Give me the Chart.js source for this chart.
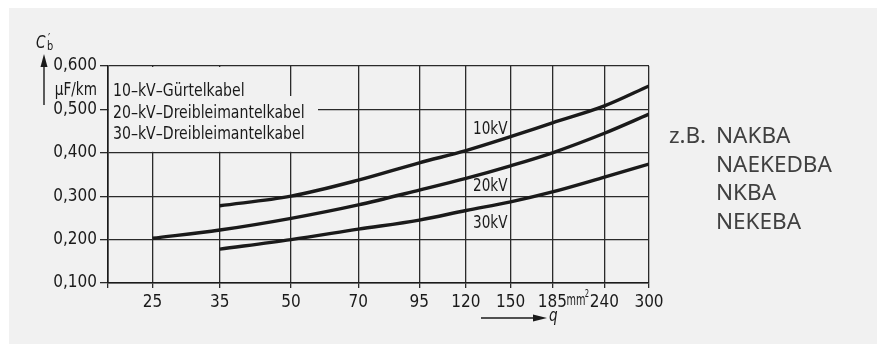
<!DOCTYPE html>
<html>
<head>
<meta charset="utf-8">
<script src="https://cdn.jsdelivr.net/npm/chart.js@4.4.0/dist/chart.umd.min.js"></script>
<style>
  html, body { margin: 0; padding: 0; background: #fff; }
  #wrap { width: 877px; height: 344px; }
</style>
</head>
<body>
<div id="wrap"><canvas id="chart" width="877" height="344"></canvas></div>
<script>
// cross-section q in mm2 (tick positions on the log axis)
const qTicks = [20, 25, 35, 50, 70, 95, 120, 150, 185, 240, 300];

// operating capacitance C'b in uF/km
const q10 = [35, 50, 70, 95, 120, 150, 185, 240, 300];
const c10 = [0.278, 0.300, 0.337, 0.377, 0.405, 0.437, 0.469, 0.508, 0.554];

const q20 = [25, 35, 50, 70, 95, 120, 150, 185, 240, 300];
const c20 = [0.203, 0.222, 0.249, 0.280, 0.314, 0.341, 0.370, 0.400, 0.445, 0.489];

const q30 = [35, 50, 70, 95, 120, 150, 185, 240, 300];
const c30 = [0.178, 0.200, 0.224, 0.245, 0.267, 0.287, 0.310, 0.344, 0.374];

const legendLines = ['10\u2013kV\u2013G\u00fcrtelkabel', '20\u2013kV\u2013Dreibleimantelkabel', '30\u2013kV\u2013Dreibleimantelkabel'];
const curveLabels = ['10kV', '20kV', '30kV'];
const exampleCables = ['NAKBA', 'NAEKEDBA', 'NKBA', 'NEKEBA'];

const narrow = '"DejaVu Sans Condensed", "Liberation Sans Narrow", Arial, sans-serif';
const ink = '#1a1a1a';

function toPoints(xs, ys) {
  return xs.map((x, i) => ({ x: x, y: ys[i] }));
}

function curve(xs, ys) {
  return {
    data: toPoints(xs, ys),
    borderColor: ink,
    borderWidth: 3.4,
    pointRadius: 0,
    fill: false,
    cubicInterpolationMode: 'monotone'
  };
}

// squeezed text, the scan uses a narrow typeface
function narrowText(ctx, t, x, y, align, sx) {
  ctx.save();
  ctx.translate(x, y);
  ctx.scale(sx || 0.84, 1);
  ctx.textAlign = align || 'left';
  ctx.fillText(t, 0, 0);
  const w = ctx.measureText(t).width * (sx || 0.84);
  ctx.restore();
  return w;
}

// grey panel behind everything
const panelBg = {
  id: 'panelBg',
  beforeDraw(chart) {
    const ctx = chart.ctx;
    ctx.save();
    ctx.fillStyle = '#ffffff';
    ctx.fillRect(0, 0, chart.width, chart.height);
    ctx.fillStyle = '#f1f1f1';
    ctx.fillRect(9, 8, chart.width - 9, chart.height - 8);
    ctx.restore();
  }
};

// texts and arrows around the plot
const annotations = {
  id: 'annotations',
  afterDatasetsDraw(chart) {
    const ctx = chart.ctx;
    const area = chart.chartArea;
    const xs = chart.scales.x;
    const ys = chart.scales.y;
    ctx.save();

    // blank area behind the legend text
    ctx.fillStyle = '#f1f1f1';
    ctx.fillRect(area.left + 1, area.top + 1, 150, 30);
    ctx.fillRect(area.left + 1, area.top + 30, 209, ys.getPixelForValue(0.4) - area.top - 31);

    ctx.fillStyle = ink;
    ctx.font = '18px ' + narrow;
    ctx.textBaseline = 'alphabetic';
    legendLines.forEach((t, i) => {
      narrowText(ctx, t, area.left + 5, area.top + 30 + i * 21.5, 'left', 0.87);
    });

    // curve names, right edge just left of the 150 gridline
    const lx = xs.getPixelForValue(150) - 3;
    narrowText(ctx, curveLabels[0], lx, ys.getPixelForValue(0.443), 'right');
    narrowText(ctx, curveLabels[1], lx, ys.getPixelForValue(0.312), 'right');
    narrowText(ctx, curveLabels[2], lx, ys.getPixelForValue(0.227), 'right');

    // unit after 185
    ctx.font = '15px ' + narrow;
    const mmx = xs.getPixelForValue(185) + 14;
    const mmw = narrowText(ctx, 'mm', mmx, 305, 'left', 0.72);
    ctx.font = '10px ' + narrow;
    narrowText(ctx, '2', mmx + mmw - 0.5, 297, 'left', 0.75);

    // q arrow
    ctx.strokeStyle = ink;
    ctx.lineWidth = 1.4;
    ctx.beginPath();
    ctx.moveTo(481, 318);
    ctx.lineTo(536, 318);
    ctx.stroke();
    ctx.beginPath();
    ctx.moveTo(547, 318);
    ctx.lineTo(533, 314.5);
    ctx.lineTo(533, 321.5);
    ctx.closePath();
    ctx.fill();
    ctx.font = 'italic 18px ' + narrow;
    narrowText(ctx, 'q', 549, 321, 'left');

    // y title C'b with upward arrow
    ctx.font = 'italic 18px ' + narrow;
    narrowText(ctx, 'C', 36, 48, 'left');
    ctx.font = '13px ' + narrow;
    narrowText(ctx, 'b', 47, 50, 'left');
    narrowText(ctx, '\u2032', 48, 42, 'left');
    ctx.beginPath();
    ctx.moveTo(44, 105);
    ctx.lineTo(44, 64);
    ctx.stroke();
    ctx.beginPath();
    ctx.moveTo(44, 54);
    ctx.lineTo(40.5, 67);
    ctx.lineTo(47.5, 67);
    ctx.closePath();
    ctx.fill();
    ctx.font = '18px ' + narrow;
    narrowText(ctx, '\u03bcF/km', 97, 95, 'right');

    // example cable types on the right
    ctx.textAlign = 'left';
    ctx.fillStyle = '#404040';
    ctx.font = '22.5px "Noto Sans", sans-serif';
    ctx.fillText('z.B.', 669, 143);
    exampleCables.forEach((t, i) => {
      ctx.fillText(t, 716, 143 + i * 28.5);
    });

    ctx.restore();
  }
};

new Chart(document.getElementById('chart'), {
  type: 'line',
  data: {
    datasets: [curve(q10, c10), curve(q20, c20), curve(q30, c30)]
  },
  options: {
    responsive: false,
    animation: false,
    layout: { padding: { left: 0, top: 66, right: 228, bottom: 0 } },
    plugins: { legend: { display: false }, tooltip: { enabled: false } },
    scales: {
      x: {
        type: 'logarithmic',
        min: 20,
        max: 300,
        afterBuildTicks: scale => {
          scale.ticks = qTicks.map(v => ({ value: v }));
        },
        afterFit: scale => { scale.height = 61; },
        ticks: {
          autoSkip: false,
          maxRotation: 0,
          color: ink,
          font: { family: narrow, size: 17 },
          padding: 4,
          callback: v => (v === 20 ? '' : String(v))
        },
        grid: { color: '#2a2a2a', lineWidth: 1.3, tickLength: 5 },
        border: { color: ink, width: 1.6 }
      },
      y: {
        min: 0.1,
        max: 0.6,
        afterFit: scale => { scale.width = 108; },
        ticks: {
          stepSize: 0.1,
          color: ink,
          font: { family: narrow, size: 17 },
          padding: 3,
          callback: v => v.toFixed(3).replace('.', ',')
        },
        grid: { color: '#2a2a2a', lineWidth: 1.3, tickLength: 8 },
        border: { color: ink, width: 1.6 }
      }
    }
  },
  plugins: [panelBg, annotations]
});
</script>
</body>
</html>
